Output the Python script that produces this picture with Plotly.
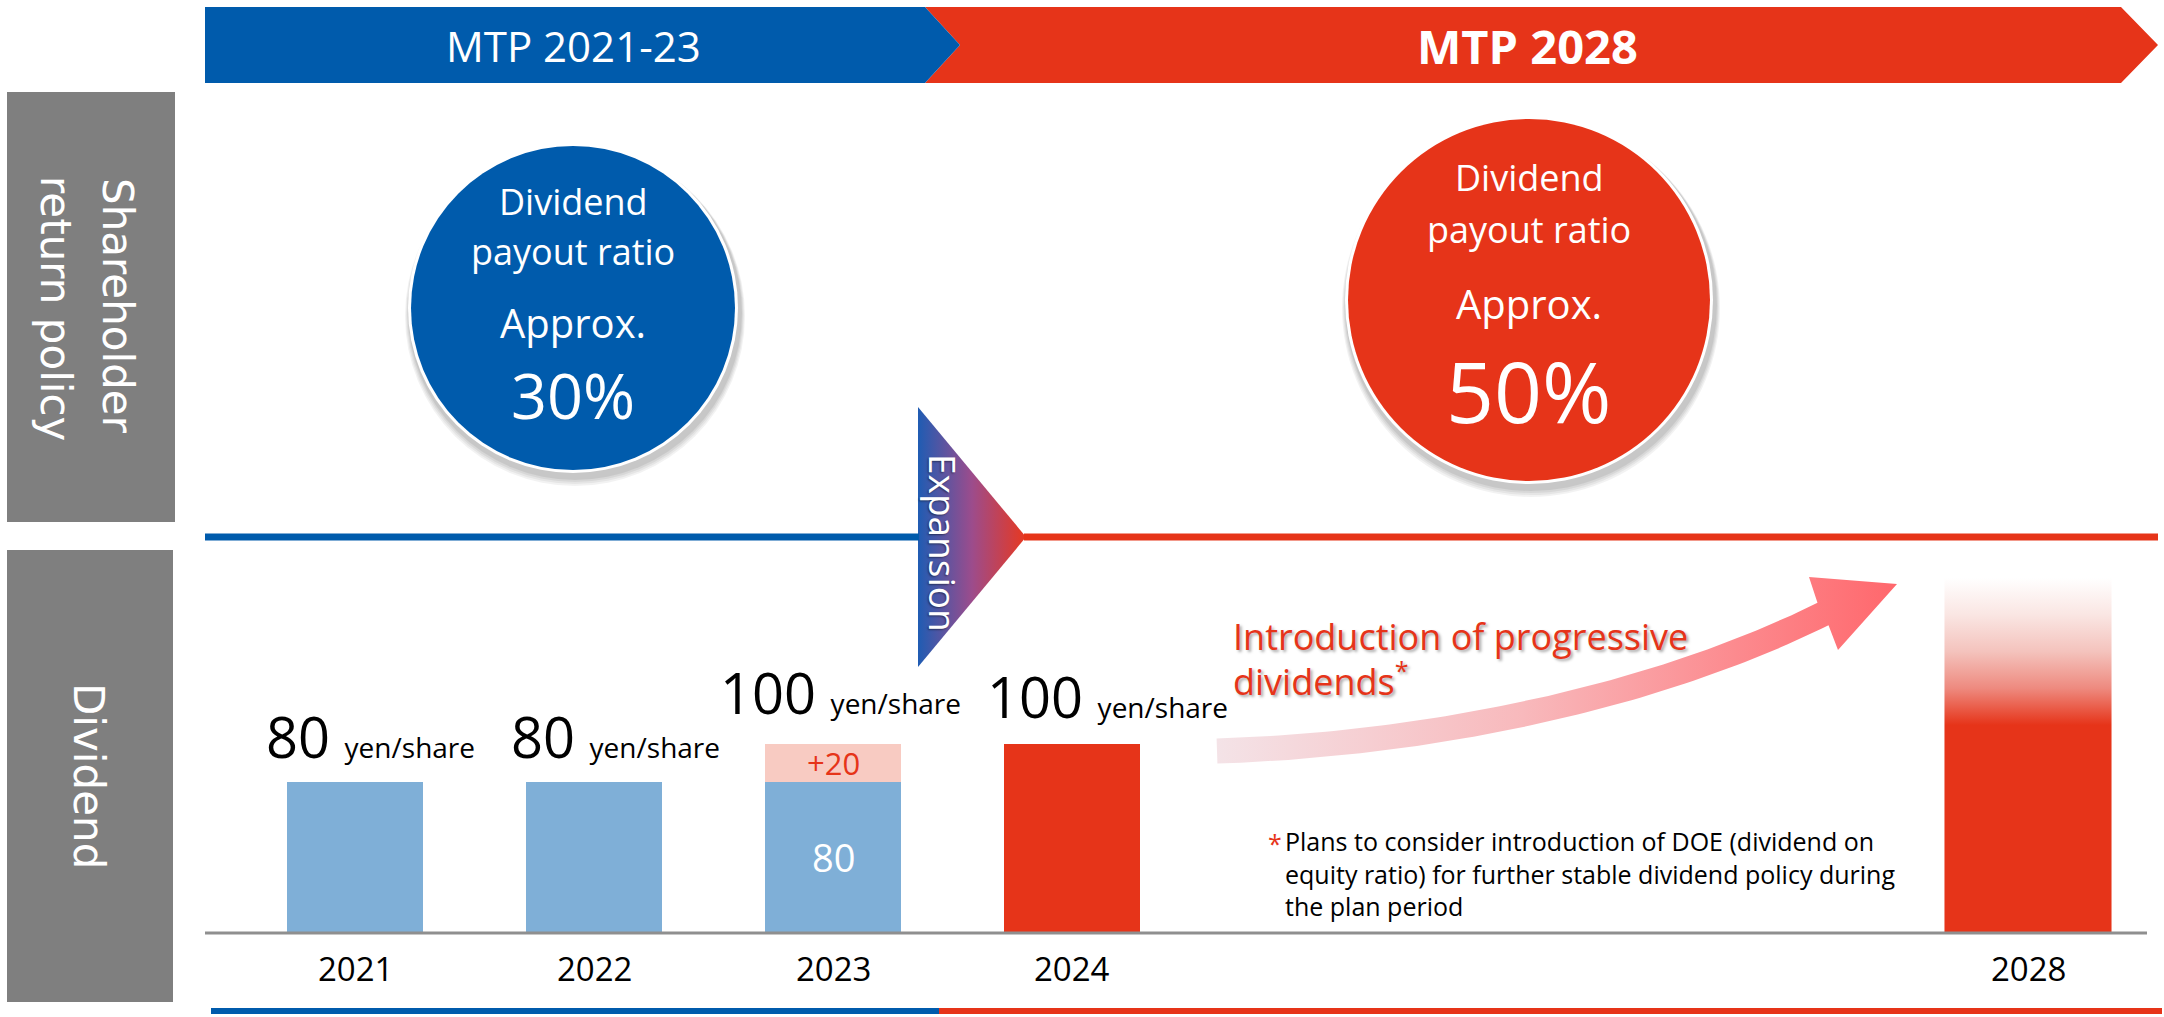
import numpy as np
import plotly.graph_objects as go

W, H = 2164, 1017

# ---------------- data ----------------
years = [2021, 2022, 2023, 2024]
year_labels = ["2021", "2022", "2023", "2024"]
base_dividend = [80, 80, 80, 100]        # yen/share
dividend_increase = [0, 0, 20, 0]        # yen/share added on top of the base
plan_year = 2028
plan_year_label = "2028"
plan_solid_level = 110                   # opaque part of the outlook bar
plan_fade_level = 188                    # level where the outlook bar fades out
period_names = ["MTP 2021-23", "MTP 2028"]
payout_ratios = ["30%", "50%"]
footnote_lines = [
    "Plans to consider introduction of DOE (dividend on",
    "equity ratio) for further stable dividend policy during",
    "the plan period",
]

# ---------------- styles ----------------
BLUE = "#005BAC"
RED = "#E63419"
LIGHT_BLUE = "#7FAFD7"
PINK = "#F8CBC2"
GREY_BOX = "#7F7F7F"
AXIS_GREY = "#8F8F8F"
FONT = "Open Sans"
BOX_FONT = "DejaVu Sans"

# bar axis geometry (screen pixels)
X0_PX, PX_PER_YEAR = 355, 239.0
BASE_PX, PX_PER_YEN = 933, 1.89
TOP_PX = 560
bar_width = 0.569
plan_width = 0.699

# per-bar nudges of the value labels (pixels)
label_xshift = [15, 21, 7, 35]
label_yshift = [6, 6, 12, 8]

x_range = [years[0] - X0_PX / PX_PER_YEAR, years[0] + (W - X0_PX) / PX_PER_YEAR]
y_domain = [(H - BASE_PX) / H, (H - TOP_PX) / H]
y_range = [0, (BASE_PX - TOP_PX) / PX_PER_YEN]

totals = [b + i for b, i in zip(base_dividend, dividend_increase)]
bar_colors = [LIGHT_BLUE if y <= 2023 else RED for y in years]

fig = go.Figure()

# ---------------- dividend bars ----------------
fig.add_trace(go.Bar(
    x=years, y=base_dividend, width=bar_width,
    marker=dict(color=bar_colors, line_width=0),
    hoverinfo="skip", xaxis="x", yaxis="y"))

fig.add_trace(go.Bar(
    x=years, y=dividend_increase, width=bar_width,
    marker=dict(color=PINK, line_width=0),
    hoverinfo="skip", xaxis="x", yaxis="y"))

# outlook bar for the final plan year, fading to white
hw = plan_width / 2
sf = plan_solid_level / plan_fade_level
fig.add_trace(go.Scatter(
    x=[plan_year - hw, plan_year + hw, plan_year + hw, plan_year - hw, plan_year - hw],
    y=[0, 0, plan_fade_level, plan_fade_level, 0],
    mode="lines", line=dict(width=0), fill="toself",
    fillgradient=dict(
        type="vertical", start=0, stop=plan_fade_level,
        colorscale=[[0, RED], [sf, RED],
                    [sf + (1 - sf) * 0.25, "#EE8A7F"],
                    [sf + (1 - sf) * 0.5, "#F4C3BD"],
                    [sf + (1 - sf) * 0.75, "#FAE6E3"],
                    [1, "#FFFFFF"]]),
    hoverinfo="skip", xaxis="x", yaxis="y"))

# ---------------- pixel overlay: expansion triangle ----------------
fig.add_trace(go.Scatter(
    x=[918, 1026, 918, 918], y=[407, 537, 667, 407],
    mode="lines", line=dict(width=0), fill="toself",
    fillgradient=dict(type="horizontal",
                      colorscale=[[0, "#1F5CB3"], [0.5, "#9C4C8C"], [1, "#E8381F"]]),
    hoverinfo="skip", xaxis="x2", yaxis="y2"))

# ---------------- pixel overlay: curved growth arrow ----------------
def cubic(p, n=80):
    t = np.linspace(0, 1, n)[:, None]
    p = np.asarray(p, float)
    return ((1 - t) ** 3) * p[0] + 3 * ((1 - t) ** 2) * t * p[1] \
        + 3 * (1 - t) * t ** 2 * p[2] + t ** 3 * p[3]

centre = cubic([(1217, 751), (1420, 745), (1650, 700), (1823, 614)])
tang = np.gradient(centre, axis=0)
tang /= np.linalg.norm(tang, axis=1)[:, None]
normal = np.stack([-tang[:, 1], tang[:, 0]], axis=1)
half = 12.5
upper = centre - normal * half
lower = centre + normal * half
head = np.array([(1809, 577), (1897, 584), (1838, 650)], float)
poly = np.vstack([upper, head, lower[::-1], upper[:1]])
fig.add_trace(go.Scatter(
    x=poly[:, 0], y=poly[:, 1],
    mode="lines", line=dict(width=0), fill="toself",
    fillgradient=dict(type="horizontal",
                      colorscale=[[0, "#F4E3E7"], [0.45, "#F8B9BC"], [1, "#FF676C"]]),
    hoverinfo="skip", xaxis="x2", yaxis="y2"))

# ---------------- shapes ----------------
shapes = []


def px_shape(**kw):
    kw.setdefault("xref", "x2")
    kw.setdefault("yref", "y2")
    shapes.append(kw)


# period banners
px_shape(type="path", path="M925,7 L2121,7 L2158,45 L2121,83 L925,83 L960,45 Z",
         fillcolor=RED, line=dict(width=0))
px_shape(type="path", path="M205,7 L925,7 L960,45 L925,83 L205,83 Z",
         fillcolor=BLUE, line=dict(width=0))

# grey side headers
px_shape(type="rect", x0=7, x1=175, y0=92, y1=522, fillcolor=GREY_BOX, line=dict(width=0))
px_shape(type="rect", x0=7, x1=173, y0=550, y1=1002, fillcolor=GREY_BOX, line=dict(width=0))

# payout-ratio circles with soft shadow and white rim
for cx, cy, r, col in [(573, 308, 165, BLUE), (1529, 300, 184, RED)]:
    for k, a in enumerate([0.05, 0.05, 0.06, 0.07]):
        rr = r + 5 - k
        dy = 8 - k
        px_shape(type="circle", x0=cx - rr + 2, x1=cx + rr + 2, y0=cy - rr + dy, y1=cy + rr + dy,
                 fillcolor=f"rgba(0,0,0,{a})", line=dict(width=0))
    px_shape(type="circle", x0=cx - r, x1=cx + r, y0=cy - r, y1=cy + r,
             fillcolor="white", line=dict(width=0))
    px_shape(type="circle", x0=cx - r + 3, x1=cx + r - 3, y0=cy - r + 3, y1=cy + r - 3,
             fillcolor=col, line=dict(width=0))

# policy divider line
px_shape(type="line", x0=205, x1=919, y0=537, y1=537, line=dict(color=BLUE, width=7))
px_shape(type="line", x0=1024, x1=2158, y0=537, y1=537, line=dict(color=RED, width=7))

# baseline of the bars
px_shape(type="line", x0=205, x1=2147, y0=BASE_PX, y1=BASE_PX,
         line=dict(color=AXIS_GREY, width=3), layer="above")

# bottom period line
px_shape(type="line", x0=211, x1=939, y0=1011, y1=1011, line=dict(color=BLUE, width=6))
px_shape(type="line", x0=939, x1=2162, y0=1011, y1=1011, line=dict(color=RED, width=6))

# ---------------- text ----------------
ann = []


def px_text(x, y, text, size, color="black", family=FONT, xanchor="center",
            yanchor="middle", **kw):
    ann.append(dict(x=x, y=y, xref="x2", yref="y2", text=text, showarrow=False,
                    xanchor=xanchor, yanchor=yanchor,
                    font=dict(family=family, size=size, color=color), **kw))


# banners
px_text(573, 45, period_names[0], 42, "white")
px_text(1527, 46, f"<b>{period_names[1]}</b>", 47, "white")

# side headers
px_text(118, 306, "Shareholder", 42, "white", BOX_FONT, textangle=90)
px_text(56, 308, "return policy", 42, "white", BOX_FONT, textangle=90)
px_text(89, 776, "Dividend", 42, "white", BOX_FONT, textangle=90)

# circle contents
for cx, ys, big, pct in [(573, (201, 251, 322, 394), 63, payout_ratios[0]),
                         (1529, (177, 229, 303, 390), 84, payout_ratios[1])]:
    px_text(cx, ys[0], "Dividend", 36, "white")
    px_text(cx, ys[1], "payout ratio", 36, "white")
    px_text(cx, ys[2], "Approx.", 40, "white")
    px_text(cx, ys[3], pct, big, "white")

# expansion label
px_text(944, 543, "Expansion", 37, "white", textangle=90)
ann[-1]["font"]["shadow"] = "1px 1px 2px rgba(0,0,0,0.45)"

# progressive dividend message
msg_font_shadow = "2px 2px 3px rgba(0,0,0,0.35)"
px_text(1231, 636, "Introduction of progressive", 36, RED, xanchor="left")
ann[-1]["font"]["shadow"] = msg_font_shadow
px_text(1231, 679, "dividends<sup>*</sup>", 36, RED, xanchor="left")
ann[-1]["font"]["shadow"] = msg_font_shadow

# footnote
px_text(1266, 843, "*", 25, RED, xanchor="left")
px_text(1283, 873, "<br>".join(footnote_lines), 25, "black", xanchor="left", align="left")

# labels inside the stacked bar: base amount and the increase
for yr, b, inc in zip(years, base_dividend, dividend_increase):
    if inc > 0:
        ann.append(dict(x=yr, y=b / 2, xref="x", yref="y", showarrow=False,
                        xanchor="center", yanchor="middle", text=str(b),
                        font=dict(family=FONT, size=38, color="white")))
        ann.append(dict(x=yr, y=b + inc / 2, xref="x", yref="y", showarrow=False,
                        xanchor="center", yanchor="middle", text=f"+{inc}",
                        font=dict(family=FONT, size=31, color=RED)))

# value labels above bars
for yr, tot, dx, dy in zip(years, totals, label_xshift, label_yshift):
    ann.append(dict(
        x=yr, y=tot, xref="x", yref="y", xanchor="center", yanchor="bottom",
        xshift=dx, yshift=dy, showarrow=False,
        text=f"<span style='font-size:56px'>{tot} </span>"
             f"<span style='font-size:28px'>yen/share</span>",
        font=dict(family=FONT, size=28, color="black")))

# year labels under the baseline
for yr, lab in list(zip(years, year_labels)) + [(plan_year, plan_year_label)]:
    ann.append(dict(x=yr, y=0, xref="x", yref="y", xanchor="center", yanchor="middle",
                    yshift=-36, showarrow=False, text=lab,
                    font=dict(family=FONT, size=33, color="black")))

fig.update_layout(
    width=W, height=H,
    margin=dict(l=0, r=0, t=0, b=0),
    paper_bgcolor="white", plot_bgcolor="rgba(0,0,0,0)",
    showlegend=False, barmode="stack", bargap=0,
    hovermode=False,
    xaxis=dict(domain=[0, 1], range=x_range, visible=False, fixedrange=True),
    yaxis=dict(domain=y_domain, range=y_range, visible=False, fixedrange=True),
    xaxis2=dict(domain=[0, 1], range=[0, W], visible=False, anchor="y2", fixedrange=True),
    yaxis2=dict(domain=[0, 1], range=[H, 0], visible=False, anchor="x2", fixedrange=True),
    shapes=shapes,
    annotations=ann,
)

fig.write_html("out.html")
